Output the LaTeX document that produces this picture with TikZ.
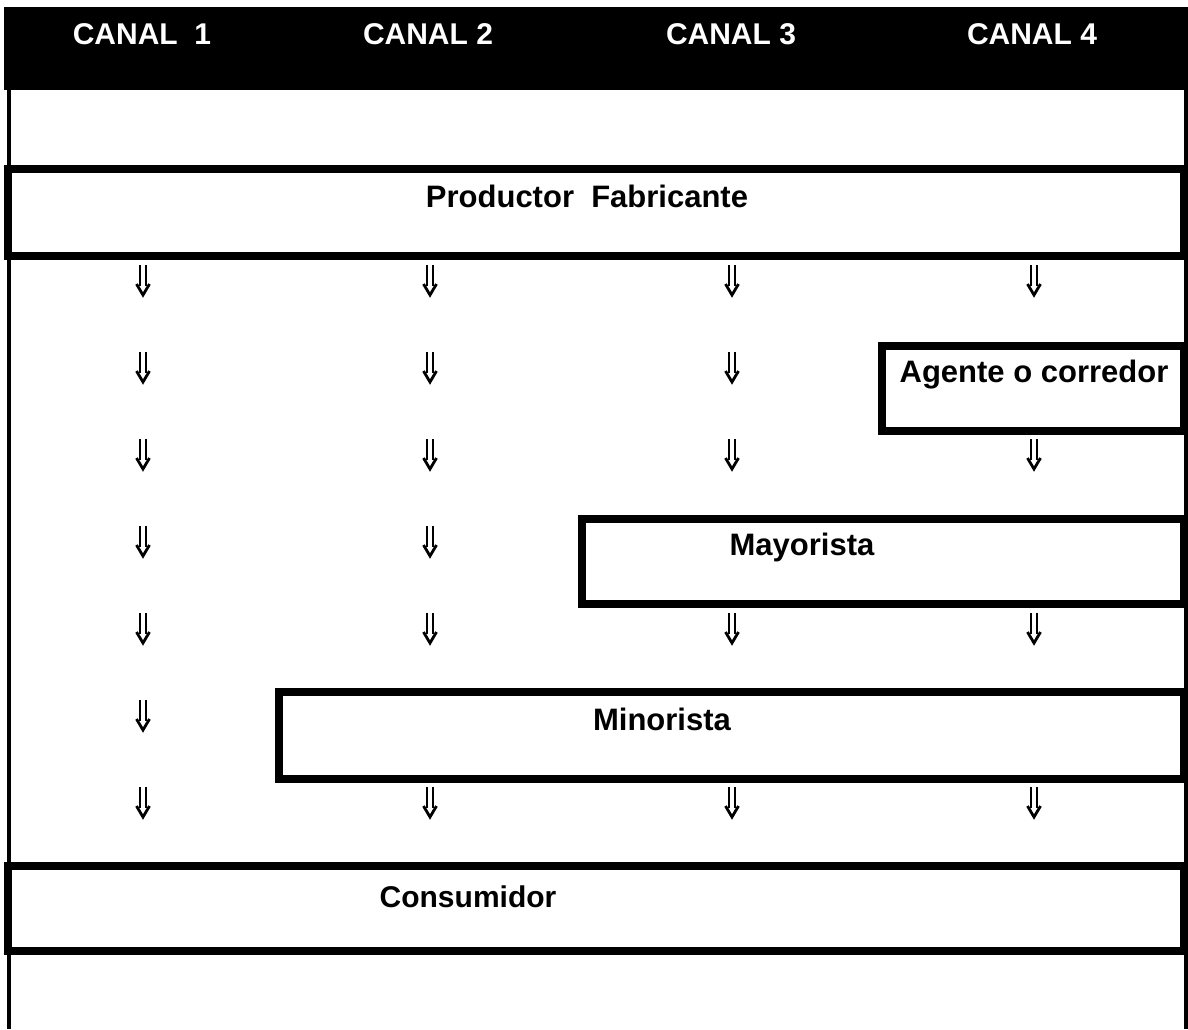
\documentclass[tikz,border=0pt]{standalone}
\usepackage{fontspec}
\setmainfont{Liberation Sans}
\begin{document}
\begin{tikzpicture}[x=1pt,y=-1pt,
  box/.style={draw=black, line width=8pt},
  frame/.style={draw=black, line width=3.5pt},
  lbl/.style={font=\fontsize{31}{36}\selectfont\bfseries, anchor=base, inner sep=0pt},
  hdr/.style={font=\fontsize{30}{36}\selectfont\bfseries, text=white, anchor=base, inner sep=0pt},
  darrow/.pic={
    \draw[line width=2.2pt] (-3,0) -- (-3,21) (3,0) -- (3,21);
    \draw[line width=2.8pt, line join=miter] (-6.5,19) -- (0,30) -- (6.5,19);
  }
]
\useasboundingbox (0,0) rectangle (1188,1029);
% header band
\fill[black] (4,7) rectangle (1188,90);
\node[hdr] (c1) at (142,44) {CANAL\ \ 1};
\node[hdr] (c2) at (428,44) {CANAL 2};
\node[hdr] (c3) at (731,44) {CANAL 3};
\node[hdr] (c4) at (1032,44) {CANAL 4};
% outer frame
\draw[frame] (9,88) -- (9,1029);
\draw[frame] (1186,88) -- (1186,1029);
% boxes
\draw[box] (8,169) rectangle (1184,256);
\draw[box] (882,346) rectangle (1184,431);
\draw[box] (582,519) rectangle (1184,604);
\draw[box] (279,692) rectangle (1184,779);
\draw[box] (8,866) rectangle (1184,951);
% labels
\node[lbl] (prod) at (587,207) {Productor\ \ Fabricante};
\node[lbl] (agente) at (1034,382) {Agente o corredor};
\node[lbl] (mayor) at (802,555) {Mayorista};
\node[lbl] (minor) at (662,730) {Minorista};
\node[lbl, font=\fontsize{30}{34}\selectfont\bfseries] (cons) at (468,907) {Consumidor};
% arrows
\foreach \x in {143,430,732,1034} {
  \pic at (\x,265) {darrow};
  \pic at (\x,439) {darrow};
  \pic at (\x,613) {darrow};
  \pic at (\x,787) {darrow};
}
\foreach \x in {143,430,732} { \pic at (\x,352) {darrow}; }
\foreach \x in {143,430} { \pic at (\x,526) {darrow}; }
\pic at (143,700) {darrow};
\end{tikzpicture}
\end{document}
